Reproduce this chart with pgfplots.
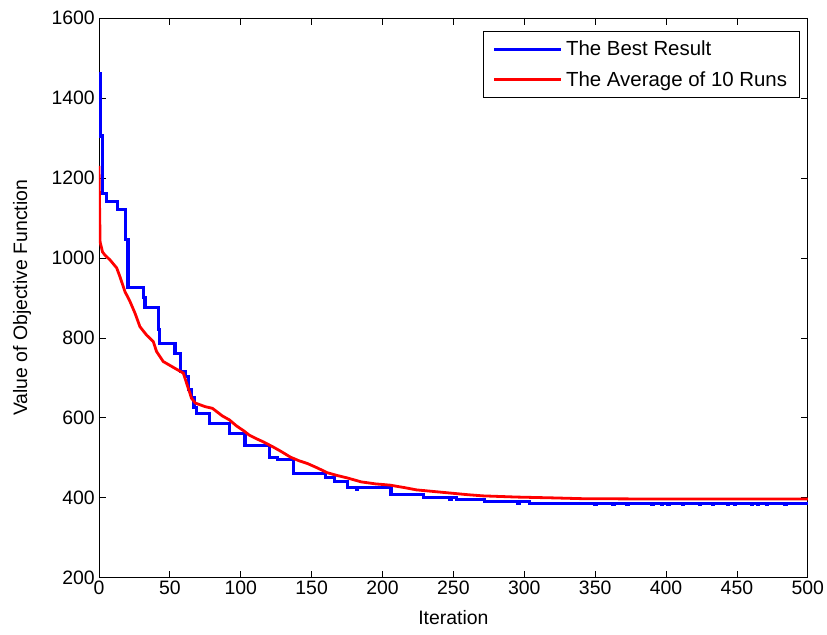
\documentclass[border=0pt]{standalone}
\usepackage{pgfplots}
\pgfplotsset{compat=1.18}
\usepackage{fontspec}
\setmainfont{Liberation Sans}
\begin{document}
\begin{tikzpicture}
\begin{axis}[
  scale only axis, width=709bp, height=560bp,
  xmin=0, xmax=500, ymin=200, ymax=1600,
  xtick={0,50,...,500}, ytick={200,400,...,1600},
  tick align=inside, major tick length=7bp,
  axis line style={line width=0.8bp},
  tick style={line width=0.8bp, black},
  ticklabel style={font=\fontsize{19.5}{22}\selectfont},
  xticklabel style={inner sep=3bp},
  yticklabel style={inner sep=4bp},
  /pgf/number format/assume math mode=true,
  scaled ticks=false, /pgf/number format/1000 sep={},
  xlabel={Iteration}, ylabel={Value of Objective Function},
  label style={font=\fontsize{19.5}{22}\selectfont},
  xlabel style={yshift=-9bp},
  ylabel style={yshift=13bp},
  every axis plot/.append style={line width=2.8bp},
  legend cell align=left,
  legend style={at={(0.9887,0.977)}, anchor=north east,
    font=\fontsize{20.5}{23}\selectfont, draw=black,
    inner xsep=9bp, inner ysep=10bp, row sep=14bp,
    nodes={inner xsep=3.5bp, inner ysep=0bp}},
  legend image code/.code={\draw[#1] (0bp,0bp) -- (67bp,0bp);},
]
\addplot[const plot, draw=blue, line width=3.1bp] coordinates {
(0,1460) (1.2,1305) (2.5,1160) (5,1140) (13,1122) (18.5,1045) (20.5,927)
(31.7,900) (32.5,875) (41.8,820) (43,787) (53.6,762) (57.5,716) (61,703)
(63,670) (65,650) (67,625) (68.5,612) (78,585) (92,562) (103,532) (120,502)
(126,497) (137,462) (160,452) (166,440) (175,425) (181.7,421) (182.5,425)
(206,408) (229,400) (247.5,396) (248.3,400)
(252,395) (272,391) (295.5,387) (296.3,391) (303.9,385) (304.7,387)
(349.8,383) (350.6,387) (362.5,383) (363.3,387) (372.4,383) (373.2,387)
(390,383) (390.8,387) (397,383) (397.8,387) (401.3,383) (402.1,387)
(411.8,383) (412.6,387) (423.8,383) (424.6,387) (432.9,383) (433.7,387)
(443.5,383) (444.3,387) (448.4,383) (449.2,387) (460.4,383) (461.2,387)
(464.6,383) (465.4,387) (471,383) (471.8,387) (483.8,383) (484.6,387)
(500,387)};
\addlegendentry{The Best Result}
\addplot[draw=red, line width=2.8bp] coordinates {
(0,1230) (0.8,1040) (2.5,1015) (4.2,1007) (7.8,995) (12.5,975) (14.8,953)
(18.3,916) (21.9,891) (25.4,862) (28.9,828) (33.6,807) (38.3,791) (40.6,766)
(45.3,741) (53.6,724) (59.5,712) (61.8,687) (65.3,649) (68,637) (75,628)
(80,624) (87,605) (92,595) (97,580) (102,568) (106,557) (111,548) (116,540)
(123,527) (129,515) (135,502) (141,493) (147,486) (154,475) (161,463)
(168,456) (175,450) (185,440) (195,435) (205,432) (215,426) (224,420)
(236,416) (248,412) (260,408) (271,405) (295,402) (320,400) (341,398)
(400,397) (450,397) (500,397)};
\addlegendentry{The Average of 10 Runs}
\end{axis}
\path ([xshift=-99bp,yshift=-57bp]current axis.south west) rectangle ([xshift=19bp,yshift=18bp]current axis.north east);
\end{tikzpicture}
\end{document}
